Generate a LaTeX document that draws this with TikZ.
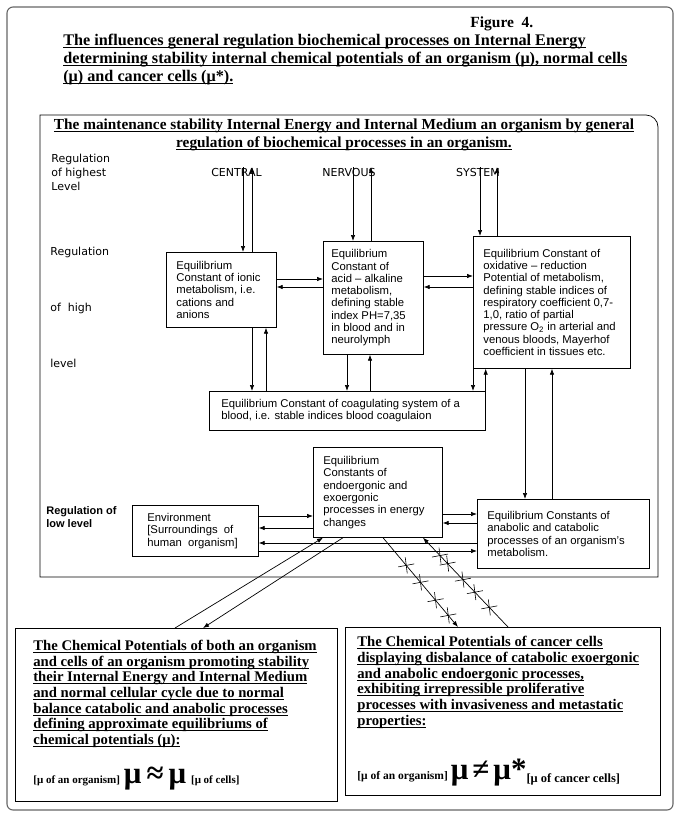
\documentclass[tikz,border=0pt]{standalone}
\usepackage{fontspec}
\setmainfont{Liberation Serif}
\setsansfont{Liberation Sans}
\newfontfamily\verdfont{DejaVu Sans}
\usetikzlibrary{arrows.meta,calc}

% one underlined line of bold text
\newcommand{\ulin}[1]{\leavevmode\setbox0\hbox{#1}\rlap{\rule[-2.6pt]{\wd0}{1.1pt}}\box0}

\begin{document}
\begin{tikzpicture}[x=1pt,y=-1pt,line width=.7pt,
  eqbox/.style={draw, rectangle, anchor=north west, align=flush left, inner xsep=10pt,
    inner ysep=0pt, font=\sffamily\fontsize{11.3}{12.3}\selectfont},
  potbox/.style={draw, rectangle, anchor=north west, align=flush left, inner ysep=0pt,
    font=\bfseries\fontsize{14.7}{15.7}\selectfont},
  lvltext/.style={anchor=west, align=left, inner sep=0pt, font=\verdfont\fontsize{11}{14}\selectfont},
  cnstext/.style={inner sep=0pt, font=\verdfont\fontsize{11}{13}\selectfont},
  arr/.style={-{Latex[length=6pt,width=4.5pt]}},
  tick/.style={line width=.6pt}]
\useasboundingbox (0,0) rectangle (680,815);
\draw[black!60, line width=1.1pt, rounded corners=6pt] (7,7) rectangle (673,810);

% titles
\node[anchor=west, inner sep=0pt, font=\bfseries\fontsize{15.5}{16}\selectfont] (fignum) at (470,24) {Figure\ \ 4.};
\node[anchor=west, inner sep=0pt, align=left, font=\bfseries\fontsize{16.2}{17.6}\selectfont] (title) at (63,59.5)
  {\ulin{The influences general regulation biochemical processes on Internal Energy}\\
   \ulin{determining stability internal chemical potentials of an organism (μ), normal cells}\\
   \ulin{(μ) and cancer cells (μ*).}};

% frame of the regulation levels
\draw (40,577) -- (40,115) -- (646,115) arc[start angle=-90, end angle=0, radius=12] -- (658,577) -- cycle;
\node[inner sep=0pt, align=center, font=\bfseries\fontsize{15.3}{17.8}\selectfont] (maintitle) at (344,135)
  {\ulin{The maintenance stability Internal Energy and Internal Medium an organism by general}\\
   \ulin{regulation of biochemical processes in an organism.}};

\node[lvltext] (lvlhighest) at (51,172) {Regulation\\of highest\\Level};
\node[lvltext] (lvlhigha) at (50,252) {Regulation};
\node[lvltext] (lvlhighb) at (50,308) {of\ \ high};
\node[lvltext] (lvlhighc) at (50,363) {level};
\node[lvltext, font=\sffamily\bfseries\fontsize{11}{13}\selectfont] (lvllow) at (46,517) {Regulation of\\low level};

\node[cnstext] (central) at (236.5,172) {CENTRAL};
\node[cnstext] (nervous) at (349,172) {NERVOUS};
\node[cnstext] (system) at (478,172) {SYSTEM};

% equilibrium constants
\node[eqbox, text width=90pt, minimum height=75pt] (ionic) at (166,252)
  {Equilibrium\\Constant of ionic\\metabolism, i.e.\\cations and\\anions};
\node[eqbox, inner xsep=8pt, text width=84pt, minimum height=113pt] (acid) at (323,241)
  {Equilibrium\\Constant of\\acid – alkaline\\metabolism,\\defining stable\\index PH=7,35\\in blood and in\\neurolymph};
\node[eqbox, text width=137pt, minimum height=132pt] (redox) at (473,236)
  {Equilibrium Constant of\\oxidative – reduction\\Potential of metabolism,\\defining stable indices of\\respiratory coefficient 0,7-\\1,0, ratio of partial\\pressure O\textsubscript{2} in arterial and\\venous bloods, Mayerhof\\coefficient in tissues etc.};
\node[eqbox, inner xsep=12pt, text width=252pt, minimum height=39pt] (coag) at (209,391)
  {Equilibrium Constant of coagulating system of a\\blood, i.e. stable indices blood coagulaion};
\node[eqbox, text width=109pt, minimum height=90pt] (energy) at (313,447)
  {Equilibrium\\Constants of\\endoergonic and\\exoergonic\\processes in energy\\changes};
\node[eqbox, inner xsep=15pt, text width=96pt, minimum height=51pt] (env) at (132,505)
  {Environment\\{[}Surroundings\ \ of\\human\ \ organism{]}};
\node[eqbox, text width=152pt, minimum height=69pt] (anab) at (477,499)
  {Equilibrium Constants of\\anabolic and catabolic\\processes of an organism's\\metabolism.};

% chemical potentials
\node[potbox, inner xsep=18pt, text width=286pt, minimum height=173pt] (potorg) at (15,628)
  {\ulin{The Chemical Potentials of both an organism}\\
   \ulin{and cells of an organism promoting stability}\\
   \ulin{their Internal Energy and Internal Medium}\\
   \ulin{and normal cellular cycle due to normal}\\
   \ulin{balance catabolic and anabolic processes}\\
   \ulin{defining approximate equilibriums of}\\
   \ulin{chemical potentials (μ):}\\[18pt]
   {\fontsize{11}{12}\selectfont{[}μ of an organism{]}}\hspace{4pt}{\fontsize{31}{31}\selectfont μ\hspace{5pt}≈\hspace{5pt}μ}\hspace{5pt}{\fontsize{11}{12}\selectfont{[}μ of cells{]}}};
\node[potbox, inner xsep=12pt, text width=291pt, minimum height=168pt] (potcancer) at (345,627)
  {\ulin{The Chemical Potentials of cancer cells}\\
   \ulin{displaying disbalance of catabolic exoergonic}\\
   \ulin{and anabolic endoergonic processes,}\\
   \ulin{exhibiting irrepressible proliferative}\\
   \ulin{processes with invasiveness and metastatic}\\
   \ulin{properties:}\\[30pt]
   {\fontsize{11.5}{12}\selectfont{[}μ of an organism{]}}\hspace{3pt}{\fontsize{31}{31}\selectfont μ\hspace{4pt}≠\hspace{4pt}μ*}\raisebox{-3pt}{\fontsize{12.5}{12}\selectfont{[}μ of cancer cells{]}}};

% highest level
\draw[arr] ($(central.center)+(6.5,-5)$) -- ($(ionic.north west)+(77,0)$);
\draw[arr] ($(ionic.north west)+(86,0)$) -- ($(central.center)+(15.5,-5)$);
\draw[arr] ($(nervous.center)+(4,-5)$) -- ($(acid.north west)+(30,0)$);
\draw[arr] ($(acid.north west)+(48,0)$) -- ($(nervous.center)+(22,-5)$);
\draw[arr] ($(system.center)+(2,-5)$) -- ($(redox.north west)+(7,0)$);
\draw[arr] ($(redox.north west)+(24,0)$) -- ($(system.center)+(19,-5)$);

% high level
\draw[arr] ($(ionic.north east)+(0,27)$) -- ($(acid.north west)+(0,38)$);
\draw[arr] ($(acid.north west)+(0,46)$) -- ($(ionic.north east)+(0,35)$);
\draw[arr] ($(acid.north east)+(0,35)$) -- ($(redox.north west)+(0,40)$);
\draw[arr] ($(redox.north west)+(0,51)$) -- ($(acid.north east)+(0,46)$);

\draw[arr] ($(ionic.south west)+(86,0)$) -- ($(coag.north west)+(43,0)$);
\draw[arr] ($(coag.north west)+(57,0)$) -- ($(ionic.south west)+(100,0)$);
\draw[arr] ($(acid.south west)+(24,0)$) -- ($(coag.north west)+(138,0)$);
\draw[arr] ($(coag.north west)+(161,0)$) -- ($(acid.south west)+(47,0)$);
\draw[arr] (redox.south west) -- (redox.south west |- coag.north);
\draw[arr] (coag.north east) -- (coag.north east |- redox.south);

\draw[arr] ($(redox.south west)+(52,0)$) -- ($(anab.north west)+(48,0)$);
\draw[arr] ($(anab.north west)+(75,0)$) -- ($(redox.south west)+(79,0)$);

% low level
\draw[arr] ($(env.north east)+(0,11)$) -- ($(energy.north west)+(0,69)$);
\draw[arr] ($(energy.north west)+(0,81)$) -- ($(env.north east)+(0,23)$);
\draw[arr] ($(energy.north east)+(0,67)$) -- ($(anab.north west)+(0,15)$);
\draw[arr] ($(anab.north west)+(0,24)$) -- ($(energy.north east)+(0,76)$);
\draw[arr] ($(anab.north west)+(0,44)$) -- ($(env.north east)+(0,38)$);
\draw[arr] ($(env.north east)+(0,46)$) -- ($(anab.north west)+(0,52)$);

% to the chemical potentials
\coordinate (orgin) at ($(potorg.north west)+(160,0)$);
\coordinate (orgout) at ($(potorg.north west)+(188,0)$);
\draw[arr] (orgin) -- ($(energy.south west)+(10,0)$);
\draw[arr] ($(energy.south west)+(30,0)$) -- (orgout);

\coordinate (canin) at ($(potcancer.north west)+(113,0)$);
\coordinate (canout) at ($(potcancer.north west)+(163,0)$);
\coordinate (enc) at ($(energy.south west)+(70,0)$);
\coordinate (end) at ($(energy.south west)+(110,0)$);
\draw[arr] (enc) -- (canin);
\draw[arr] (canout) -- (end);
\foreach \p in {.31,.5,.7,.87}
  \draw[tick] ($(enc)!\p!(canin)$) +(-8,1.5) -- +(8,-1.5) +(-1,-8) -- +(1,8);
\foreach \p in {.2,.29,.47,.61,.78}
  \draw[tick] ($(end)!\p!(canout)$) +(-8,1.5) -- +(8,-1.5) +(-1,-8) -- +(1,8);

\end{tikzpicture}
\end{document}
